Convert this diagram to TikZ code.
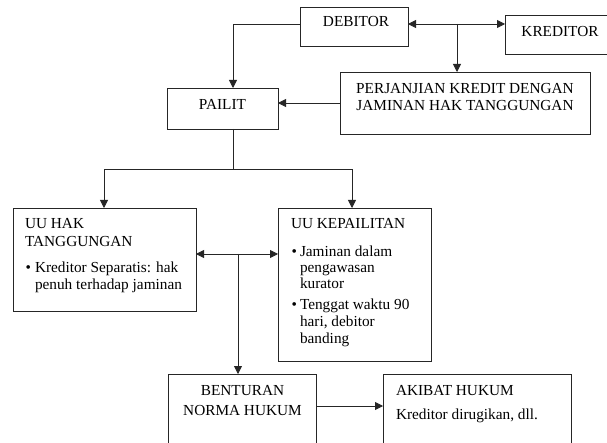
\documentclass[tikz,border=0pt]{standalone}
\usepackage{fontspec}
\setmainfont{Liberation Serif}
\usetikzlibrary{arrows.meta,calc}
\begin{document}
\begin{tikzpicture}[x=1pt,y=-1pt,
  box/.style={draw=black!85,line width=0.8pt,inner sep=0pt,outer sep=0pt},
  arr/.style={draw=black!85,line width=0.8pt,-{Triangle[length=8pt,width=8pt]}},
  dbl/.style={draw=black!85,line width=0.8pt,{Triangle[length=8pt,width=8pt]}-{Triangle[length=8pt,width=8pt]}},
  lbl/.style={inner sep=0pt,outer sep=0pt,font=\fontsize{15.3}{17}\selectfont},
  bul/.style={inner sep=0pt,outer sep=0pt,font=\fontsize{15.3}{17}\selectfont}]
\useasboundingbox (0,0) rectangle (607,443);
\clip (0,0) rectangle (607,443);
\fill[white] (0,0) rectangle (607,443);
% boxes
\node[box,minimum width=108,minimum height=39] (deb) at (354,26.5) {};
\node[box,minimum width=107,minimum height=39] (kred) at (558.5,34.5) {};
\node[box,minimum width=250,minimum height=62] (perj) at (465,103) {};
\node[box,minimum width=111,minimum height=41] (pailit) at (222.5,108.5) {};
\node[box,minimum width=183,minimum height=103] (uuhak) at (104.5,259.5) {};
\node[box,minimum width=153,minimum height=153] (uukep) at (354.5,284.5) {};
\node[box,minimum width=148,minimum height=76] (bent) at (242,412) {};
\node[box,minimum width=188,minimum height=76] (akibat) at (477,412) {};
% labels
\node[lbl,anchor=base] (tdeb) at (356,27) {DEBITOR};
\node[lbl,anchor=base] (tkred) at (560,37) {KREDITOR};
\node[lbl,anchor=base] (tperj1) at (465,94) {PERJANJIAN KREDIT DENGAN};
\node[lbl,anchor=base] (tperj2) at (465,111) {JAMINAN HAK TANGGUNGAN};
\node[lbl,anchor=base] (tpailit) at (222.5,110) {PAILIT};
\node[lbl,anchor=base west] (th1) at (25,228.5) {UU HAK};
\node[lbl,anchor=base west] (th2) at (25,246.5) {TANGGUNGAN};
\node[bul,anchor=base west] (bh1) at (25.5,272.5) {\textbullet};
\node[lbl,anchor=base west] (th3) at (35,272.5) {Kreditor Separatis: hak};
\node[lbl,anchor=base west] (th4) at (35,289.5) {penuh terhadap jaminan};
\node[lbl,anchor=base west] (tk1) at (291,229) {UU KEPAILITAN};
\node[bul,anchor=base west] (bk1) at (291.5,257) {\textbullet};
\node[lbl,anchor=base west] (tk2) at (300,257) {Jaminan dalam};
\node[lbl,anchor=base west] (tk3) at (300,273) {pengawasan};
\node[lbl,anchor=base west] (tk4) at (300,289) {kurator};
\node[bul,anchor=base west] (bk2) at (291.5,309) {\textbullet};
\node[lbl,anchor=base west] (tk5) at (300,309) {Tenggat waktu 90};
\node[lbl,anchor=base west] (tk6) at (300,326) {hari, debitor};
\node[lbl,anchor=base west] (tk7) at (300,343) {banding};
\node[lbl,anchor=base] (tb1) at (242.5,395) {BENTURAN};
\node[lbl,anchor=base] (tb2) at (242.5,415) {NORMA HUKUM};
\node[lbl,anchor=base west] (ta1) at (396,395) {AKIBAT HUKUM};
\node[lbl,anchor=base west] (ta2) at (396,419) {Kreditor dirugikan, dll.};
% connectors
\draw[arr] ($(deb.west)+(0,-2.5)$) -| ($(pailit.north)+(10.5,0)$);
\draw[dbl] ($(deb.east)+(0,-2.5)$) -- ($(kred.west)+(0,-10.5)$);
\coordinate (dk) at (457,24);
\draw[arr] (dk) -- (dk |- perj.north);
\coordinate (pw) at ($(perj.west)$);
\draw[arr] (pw) -- (pw -| pailit.east);
\coordinate (ps) at ($(pailit.south)+(10.5,0)$);
\coordinate (br) at (233,169);
\draw[draw=black!85,line width=0.8pt] (ps) -- (br);
\draw[arr] (br) -| ($(uuhak.north)+(-0.5,0)$);
\draw[arr] (br) -| ($(uukep.north)+(-2.5,0)$);
\coordinate (mid) at (238,254);
\draw[dbl] (mid -| uuhak.east) -- (mid -| uukep.west);
\draw[arr] (mid) -- (mid |- bent.north);
\coordinate (ba) at (316,406);
\draw[arr] (ba -| bent.east) -- (ba -| akibat.west);
\end{tikzpicture}
\end{document}
